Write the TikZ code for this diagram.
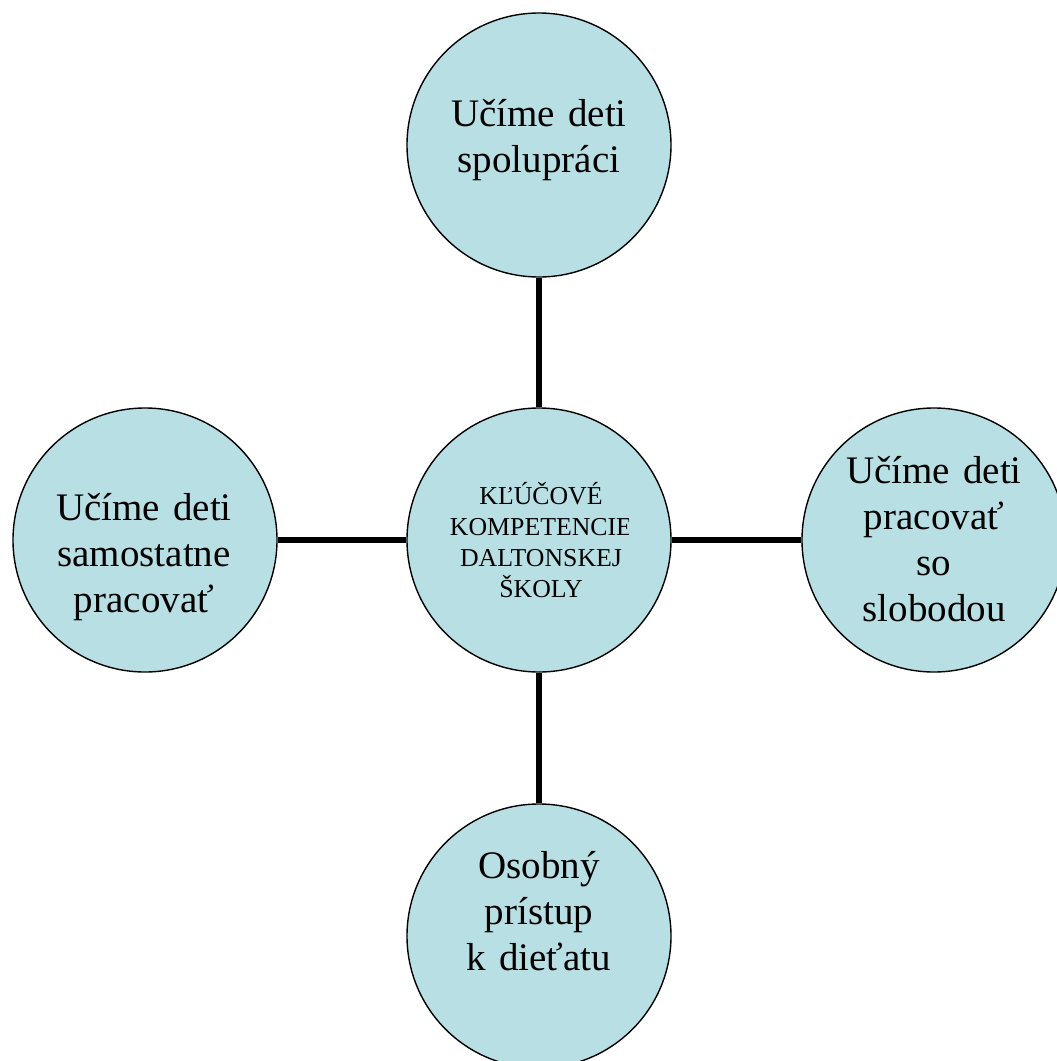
\documentclass[tikz,border=0pt]{standalone}
\usepackage{fontspec}
\setmainfont{Liberation Serif}
\definecolor{bubble}{HTML}{B8DFE3}
\begin{document}
\begin{tikzpicture}[x=1pt,y=-1pt,
  bub/.style={circle,draw=black,line width=1.4pt,fill=bubble,minimum size=264pt,inner sep=0pt},
  conn/.style={line width=6pt},
  big/.style={anchor=base,inner sep=0pt,text width=250pt,align=center,
    font=\fontsize{39}{46}\selectfont},
  small/.style={anchor=base,inner sep=0pt,text width=250pt,align=center,
    font=\fontsize{25.8}{31}\selectfont}]
\useasboundingbox (0,0) rectangle (1057,1061);
\clip (0,0) rectangle (1057,1061);
\node[bub] (ctr) at (539,540) {};
\node[bub] (top) at (539,145) {};
\node[bub] (bot) at (539,936) {};
\node[bub] (lft) at (145,540) {};
\node[bub] (rgt) at (934,540) {};
\draw[conn] (top) -- (ctr);
\draw[conn] (ctr) -- (bot);
\draw[conn] (lft) -- (ctr);
\draw[conn] (ctr) -- (rgt);
\node[big] (ttop) at (539,126) {Učíme deti\\spolupráci};
\node[big] (tlft) at (144,520) {Učíme deti\\samostatne\\pracovať};
\node[big] (trgt) at (934,483) {Učíme deti\\pracovať\\so\\slobodou};
\node[big] (tbot) at (539,878) {Osobný\\prístup\\k dieťatu};
\begin{scope}
\clip (0,0) rectangle (628,1061);
\node[small] (tctr) at (541,504) {KĽÚČOVÉ\\KOMPETENCIE\\DALTONSKEJ\\ŠKOLY};
\end{scope}
\end{tikzpicture}
\end{document}
